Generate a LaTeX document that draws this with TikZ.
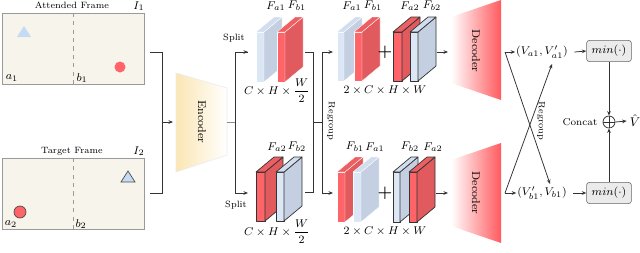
\documentclass[tikz,border=0pt]{standalone}
\usepackage{amsmath}
\usetikzlibrary{arrows.meta,fit}
\definecolor{frameF}{HTML}{F7F4EC}
\definecolor{frameD}{HTML}{9A9A9A}
\definecolor{bF}{HTML}{DCE7F6}
\definecolor{bS}{HTML}{C4D0E2}
\definecolor{bT}{HTML}{D2DEEE}
\definecolor{rF}{HTML}{FF6468}
\definecolor{rS}{HTML}{E05A5E}
\definecolor{rT}{HTML}{EE5F63}
\definecolor{triB}{HTML}{C6DBF3}
\definecolor{encY}{HTML}{FBE6B4}
\definecolor{decR}{HTML}{FF5A5E}
\definecolor{lineC}{HTML}{333333}
\newcommand\mkslab[6]{%
  \path[fill=#5F,#6] (#1,#3) rectangle (#2,#4);
  \path[fill=#5S,#6] (#2,#3) -- ++(18,-15) -- ++(0,#4-#3) -- (#2,#4) -- cycle;
  \path[fill=#5T,#6] (#1,#3) -- ++(18,-15) -- ++(#2-#1,0) -- (#2,#3) -- cycle;}
\begin{document}
\begin{tikzpicture}[x=0.025cm,y=-0.025cm,
  frame/.style={draw=frameD,fill=frameF,line width=0.5pt,inner sep=0pt},
  lbl/.style={inner sep=0.5pt,font=\fontsize{8}{9}\selectfont},
  tiny/.style={inner sep=0.5pt,font=\fontsize{6.5}{7.5}\selectfont},
  conn/.style={draw=lineC,line width=0.55pt},
  arr/.style={conn,-{Stealth[length=3.2pt,width=2.6pt]}},
  ol/.style={draw=black!80,line width=0.5pt,line join=round},
  nl/.style={draw=white,line width=0.25pt,line join=round},
  minbox/.style={draw=black!60,fill=black!8,rounded corners=2pt,minimum width=1.12cm,minimum height=0.53cm,inner sep=0pt,font=\fontsize{8.5}{9}\selectfont}]
\useasboundingbox (0,0) rectangle (640,252);

% frames
\node[frame,fit={(2,13) (144,84)}] (f1) {};
\node[frame,fit={(2,158) (144,229)}] (f2) {};
\draw[frameD,dashed,line width=0.5pt] (f1.north) -- (f1.south);
\draw[frameD,dashed,line width=0.5pt] (f2.north) -- (f2.south);
\node[tiny] (t1) at (72,5) {Attended Frame};
\node[tiny] (t2) at (72,151) {Target Frame};
\node[lbl] (i1) at (139,6) {$I_1$};
\node[lbl] (i2) at (139,151) {$I_2$};
\fill[triB] (17,37) -- (31,37) -- (24,26) -- cycle;
\fill[rF] (120,67) circle (5.5);
\filldraw[fill=triB,draw=black!70,line width=0.5pt] (121,182) -- (135,182) -- (128,171) -- cycle;
\filldraw[fill=rF,draw=black!70,line width=0.5pt] (20,212) circle (6);
\node[lbl] (a1) at (12,78) {$a_1$};
\node[lbl] (b1) at (82,78) {$b_1$};
\node[lbl] (a2) at (11,224) {$a_2$};
\node[lbl] (b2) at (81,224) {$b_2$};

% frames to encoder
\coordinate (j1) at (162,122);
\draw[conn] (150,52) -| (162,193) -- (150,193);
\draw[arr] (j1) -- (173,122);

% encoder
\path[left color=encY,right color=white,draw=black!8] (176,73) -- (227,88) -- (227,155) -- (176,172) -- cycle;
\node[lbl,rotate=-90] (enc) at (202,122) {Encoder};

% split
\draw[conn,draw=black!45] (227,122) -- (235,122);
\draw[conn] (248,52) -- (235,52) -- (235,193);
\draw[arr] (235,52) -- (248,52);
\draw[arr] (235,193) -- (248,193);
\node[tiny] (sp1) at (234,38) {Split};
\node[tiny] (sp2) at (236,205) {Split};

% first feature groups
\mkslab{256}{264}{32}{82}{b}{nl}
\mkslab{277}{285}{32}{82}{r}{nl}
\mkslab{256}{265}{172}{221}{r}{ol}
\mkslab{276}{284}{172}{221}{b}{ol}
\node[lbl] at (276,6) {$F_{a1}$};
\node[lbl] at (297,6) {$F_{b1}$};
\node[lbl] at (277,147) {$F_{a2}$};
\node[lbl] at (297,147) {$F_{b2}$};
\node[lbl] (d1) at (277,91) {$C\times H\times \dfrac{W}{2}$};
\node[lbl] (d2) at (277,232) {$C\times H\times \dfrac{W}{2}$};

% regroup
\draw[conn] (305,52) -- (313,52) -- (313,192) -- (305,192);
\draw[conn] (313,122) -- (322,122);
\draw[conn] (322,52) -- (322,193);
\draw[arr] (322,52) -- (333,52);
\draw[arr] (322,193) -- (333,193);
\node[tiny,rotate=-90] (rg1) at (331,121) {Regroup};

% second feature groups
\mkslab{337}{344}{32}{81}{b}{nl}
\mkslab{354}{362}{32}{81}{r}{nl}
\mkslab{393}{402}{32}{81}{r}{ol}
\mkslab{410}{418}{32}{81}{b}{ol}
\node[lbl] at (352,6) {$F_{a1}$};
\node[lbl] at (373,6) {$F_{b1}$};
\node[lbl] at (410,6) {$F_{a2}$};
\node[lbl] at (432,6) {$F_{b2}$};
\node[font=\fontsize{12}{12}\selectfont\bfseries,inner sep=0pt] (p1) at (385,52) {+};
\node[lbl] (e1) at (385,90) {$2\times C\times H\times W$};

\mkslab{337}{345}{172}{222}{r}{nl}
\mkslab{353}{361}{172}{222}{b}{nl}
\mkslab{393}{400}{172}{222}{b}{ol}
\mkslab{409}{417}{172}{222}{r}{ol}
\node[lbl] at (355,147) {$F_{b1}$};
\node[lbl] at (375,147) {$F_{a1}$};
\node[lbl] at (410,147) {$F_{b2}$};
\node[lbl] at (433,147) {$F_{a2}$};
\node[font=\fontsize{12}{12}\selectfont\bfseries,inner sep=0pt] (p2) at (385,193) {+};
\node[lbl] (e2) at (385,231) {$2\times C\times H\times W$};

% decoders
\draw[arr] (437,52) -- (448,52);
\draw[arr] (436,193) -- (448,193);
\path[left color=white,right color=decR] (451,17) -- (501,0) -- (501,100) -- (451,83) -- cycle;
\path[left color=white,right color=decR] (451,160) -- (501,143) -- (501,243) -- (451,226) -- cycle;
\node[lbl,rotate=-90] (dec1) at (476,51) {Decoder};
\node[lbl,rotate=-90] (dec2) at (476,193) {Decoder};

% outputs
\coordinate (o1) at (505,52);
\coordinate (o2) at (505,193);
\node[lbl,font=\fontsize{8.5}{9}\selectfont] (va) at (542,52) {$(V_{a1},V'_{a1})$};
\node[lbl,font=\fontsize{8.5}{9}\selectfont] (vb) at (542,193) {$(V'_{b1},V_{b1})$};
\draw[arr] (o1) -- (va.west);
\draw[arr] (o2) -- (vb.west);
\draw[arr] (o1) -- (550,184);
\draw[arr] (o2) -- (552,64);
\node[tiny,rotate=-90] (rg2) at (541,121) {Regroup};
\node[minbox] (m1) at (609,51) {$min(\cdot)$};
\node[minbox] (m2) at (609,193) {$min(\cdot)$};
\draw[arr] (va.east) ++(4pt,0) -- (m1.west);
\draw[arr] (vb.east) ++(4pt,0) -- (m2.west);
\node[circle,draw=lineC,line width=0.55pt,minimum size=0.3cm,inner sep=0pt] (cp) at (609,122) {};
\draw[conn] (cp.north) -- (cp.south) (cp.west) -- (cp.east);
\draw[arr] (m1.south) -- (cp.north);
\draw[arr] (m2.north) -- (cp.south);
\node[inner sep=1pt,font=\fontsize{9}{10}\selectfont] (vh) at (635,121) {$\hat{V}$};
\draw[arr] (cp.east) -- ([xshift=-1pt]vh.west);
\node[tiny,font=\fontsize{7}{8}\selectfont] (cc) at (580,122) {Concat};
\end{tikzpicture}
\end{document}
